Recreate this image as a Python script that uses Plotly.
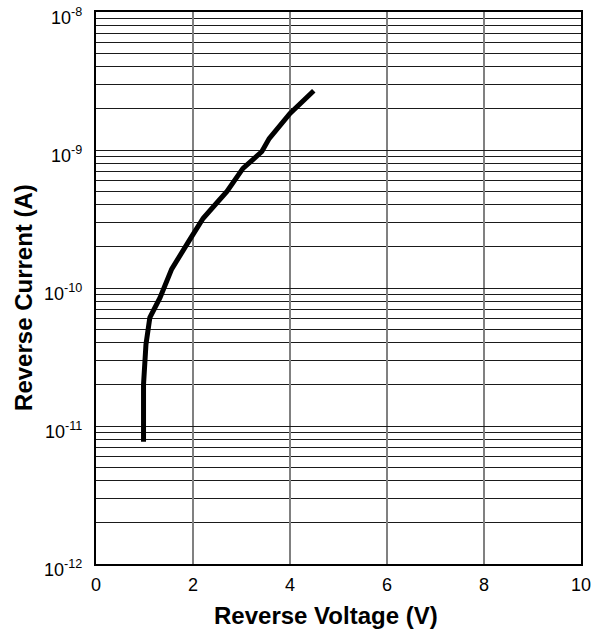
import plotly.graph_objects as go

# Data
voltage = [0.98, 0.98, 1.03, 1.11, 1.32, 1.56, 1.94, 2.21, 2.52, 2.70, 3.03, 3.42, 3.57, 4.00, 4.49]
current = [7.7e-12, 2.0e-11, 3.9e-11, 6.1e-11, 8.5e-11, 1.37e-10, 2.26e-10, 3.2e-10,
           4.25e-10, 5.0e-10, 7.35e-10, 9.75e-10, 1.21e-9, 1.84e-9, 2.69e-9]

x_ticks = [0, 2, 4, 6, 8, 10]
decades = [-12, -11, -10, -9, -8]
minor_mult = [2, 3, 4, 5, 6, 7, 8, 9]

FONT = "Arial, Liberation Sans, sans-serif"

y_major = [10.0 ** d for d in decades]
y_major_text = [f"10<sup>{d}</sup>" for d in decades]
y_minor = [m * 10.0 ** d for d in decades[:-1] for m in minor_mult]

fig = go.Figure()
fig.add_trace(go.Scatter(
    x=voltage, y=current, mode="lines",
    line=dict(color="black", width=5),
    showlegend=False, hoverinfo="skip",
))

# y tick labels as annotations (so they sit slightly below their gridlines as in the reference)
annotations = [
    dict(text=t, xref="paper", yref="y", x=0, y=d, xanchor="right", yanchor="middle",
         xshift=-12, yshift=-4, showarrow=False,
         font=dict(family=FONT, size=18, color="black"))
    for d, t in zip(decades, y_major_text)
]
annotations += [
    dict(text="<b>Reverse Voltage (V)</b>", xref="paper", yref="paper",
         x=0.474, y=0, xanchor="center", yanchor="middle", yshift=-51,
         showarrow=False, font=dict(family=FONT, size=24, color="black")),
    dict(text="<b>Reverse Current (A)</b>", xref="paper", yref="paper",
         x=0, y=0.482, xanchor="center", yanchor="middle", xshift=-72,
         textangle=-90, showarrow=False,
         font=dict(family=FONT, size=24, color="black")),
]

fig.update_layout(
    width=605, height=635,
    margin=dict(l=96, r=24, t=10, b=71),
    paper_bgcolor="white", plot_bgcolor="white",
    font=dict(family=FONT, size=18, color="black"),
    xaxis=dict(
        range=[0, 10], tickvals=x_ticks, ticktext=[str(v) for v in x_ticks],
        showgrid=True, gridcolor="#808080", gridwidth=1.5,
        showline=True, linecolor="black", linewidth=1.5, mirror=True,
        ticks="", zeroline=False, tickfont=dict(family=FONT, size=18, color="black"),
        ticklabelstandoff=4,
    ),
    yaxis=dict(
        type="log", range=[-12.00001, -7.99999], tickvals=y_major,
        showticklabels=False,
        showgrid=True, gridcolor="#1a1a1a", gridwidth=1,
        minor=dict(tickvals=y_minor, showgrid=True, gridcolor="#1a1a1a", gridwidth=1, ticks=""),
        showline=True, linecolor="black", linewidth=1.5, mirror=True,
        ticks="", zeroline=False,
    ),
    annotations=annotations,
)

fig.write_html("out.html", config={"displayModeBar": False},
               post_script="document.body.style.margin='0';")
